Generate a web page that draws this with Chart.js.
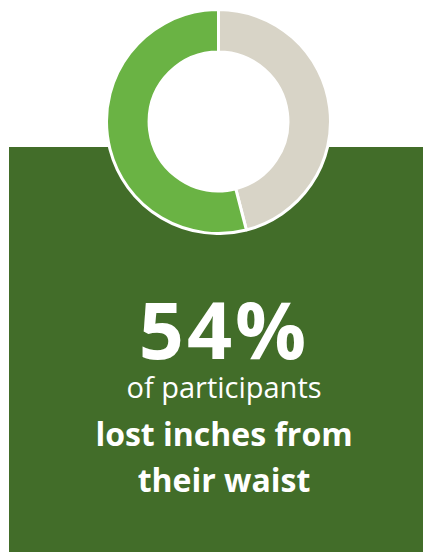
<!DOCTYPE html>
<html lang="en">
<head>
  <meta charset="UTF-8">
  <title>Waist</title>
  <script src="https://cdn.jsdelivr.net/npm/chart.js"></script>
  <style>
    body {
      margin: 0;
      padding: 0;
      background: #ffffff;
      width: 433px;
      height: 552px;
      overflow: hidden;
      position: relative;
      font-family: 'Open Sans', sans-serif;
    }
    .panel {
      position: absolute;
      left: 9px;
      top: 147px;
      width: 414px;
      height: 405px;
      background: #426d29;
    }
    .chart-box {
      position: absolute;
      left: 105px;
      top: 8px;
      width: 227px;
      height: 227px;
    }
    .stat {
      position: absolute;
      left: 0;
      width: 448px;
      text-align: center;
      color: #ffffff;
    }
    .big {
      top: 284px;
      font-size: 79px;
      font-weight: 700;
      letter-spacing: 3px;
      line-height: 90px;
    }
    .sub {
      top: 367px;
      font-size: 29px;
      font-weight: 400;
      line-height: 40px;
    }
    .bold {
      top: 411px;
      font-size: 32px;
      font-weight: 700;
      line-height: 46px;
    }
  </style>
</head>
<body>

<div class="panel"></div>
<div class="chart-box"><canvas id="waistChart"></canvas></div>

<div class="stat big" id="pct"></div>
<div class="stat sub">of participants</div>
<div class="stat bold">lost inches from<br>their waist</div>

<script>
  const labels = ["Did not lose inches", "Lost inches from waist"];
  const values = [46, 54];
  const colors = ["#d8d4c7", "#6ab344"];

  document.getElementById("pct").textContent = values[1] + "%";

  // white disc behind the ring so the hole is not see-through
  const whiteHole = {
    id: 'whiteHole',
    beforeDatasetsDraw(chart) {
      const arc = chart.getDatasetMeta(0).data[0];
      if (!arc) return;
      const ctx = chart.ctx;
      ctx.save();
      ctx.fillStyle = "#ffffff";
      ctx.beginPath();
      ctx.arc(arc.x, arc.y, arc.outerRadius, 0, Math.PI * 2);
      ctx.fill();
      ctx.restore();
    }
  };

  new Chart(document.getElementById("waistChart"), {
    type: 'doughnut',
    data: {
      labels: labels,
      datasets: [{
        data: values,
        backgroundColor: colors,
        borderColor: "#ffffff",
        borderWidth: 3
      }]
    },
    options: {
      responsive: true,
      maintainAspectRatio: false,
      animation: false,
      cutout: '62%',
      layout: { padding: 0 },
      plugins: {
        legend: { display: false },
        tooltip: { enabled: false }
      }
    },
    plugins: [whiteHole]
  });
</script>
</body>
</html>
